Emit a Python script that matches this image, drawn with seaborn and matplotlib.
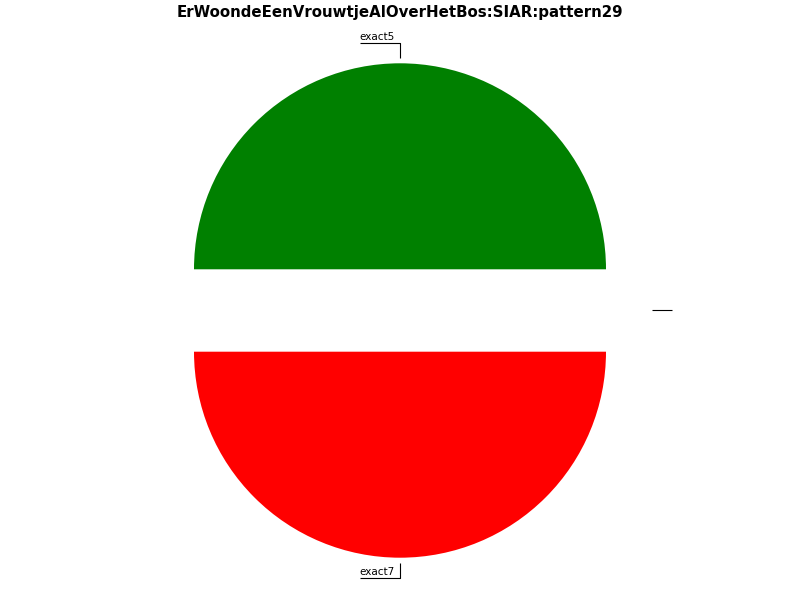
import matplotlib
matplotlib.use("Agg")
import matplotlib.pyplot as plt
import seaborn as sns
import numpy as np

sns.set_style("white")

# data
title = "ErWoondeEenVrouwtjeAlOverHetBos:SIAR:pattern29"
labels = ["exact5", "exact7", ""]
values = [1, 1, 0]
colors = ["#008000", "#ff0000", "#0000ff"]
explode = [0.2, 0.2, 0.2]

fig = plt.figure(figsize=(8, 6), dpi=100)
ax = fig.add_axes([0, 0, 1, 1])

wedges, _ = ax.pie(values, colors=colors, explode=explode, startangle=0,
                   counterclock=True, wedgeprops=dict(linewidth=0))

# one unit of radius = 206 px, pie centre at (400, 310.5) px from the top
scale = 206
ax.set_xlim(-400 / scale, 400 / scale)
ax.set_ylim(-289.5 / scale, 310.5 / scale)
ax.set_axis_off()

fig.canvas.draw()
renderer = fig.canvas.get_renderer()

# labels: short radial tick, then an underline beneath the text
for w, lab in zip(wedges, labels):
    ang = np.deg2rad((w.theta1 + w.theta2) / 2)
    dx, dy = np.cos(ang), np.sin(ang)
    px, py = 1.225 * dx, 1.225 * dy
    if abs(dx) > 0.5:
        # side label: line runs outward horizontally
        ex, ey = px, py
        ux = px + np.sign(dx) * 20 / scale
    else:
        ex, ey = px, 1.3 * np.sign(dy)
        t = ax.text(ex - 5 / scale, ey + 1 / scale, lab, ha="right",
                    va="bottom", fontsize=7.5, color="black")
        tw = t.get_window_extent(renderer).width
        ux = ex - (tw + 5) / scale
    ax.plot([px, ex, ux], [py, ey, ey], color="black", lw=0.8,
            solid_capstyle="butt", clip_on=False)

fig.text(0.5, 1 - 13 / 600, title, ha="center", va="center",
         fontsize=10.8, fontweight="bold", color="black")

fig.savefig("out.png", dpi=100)
